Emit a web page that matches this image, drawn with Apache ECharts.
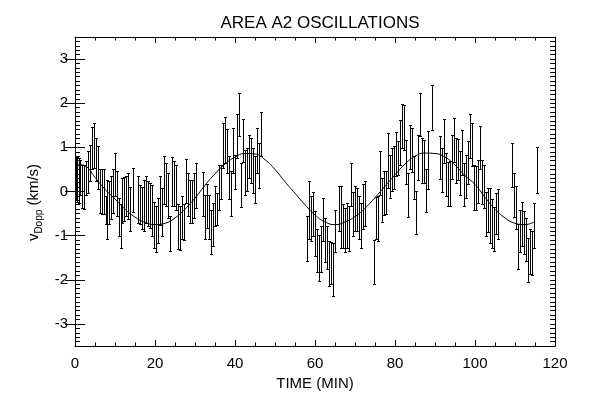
<!DOCTYPE html>
<html>
<head>
<meta charset="utf-8">
<script src="https://cdn.jsdelivr.net/npm/echarts@6/dist/echarts.min.js"></script>
<style>
  html, body { margin: 0; padding: 0; background: #fff; }
  #main { width: 597px; height: 396px; }
</style>
</head>
<body>
<div id="main"></div>
<script>
// measured points: time (min), top and bottom of error bar (km/s)
const times = [
  0.17, 0.5, 0.92, 1.33, 1.83, 2.33, 2.83, 3.33, 3.83, 4.33, 4.83, 5.33, 5.83, 6.33, 6.83, 7.33,
  7.67, 8.0, 8.5, 9.0, 9.5, 10.0, 10.5, 11.0, 11.5, 11.83, 12.33, 12.83, 13.33, 13.83, 14.5,
  15.83, 16.33, 16.83, 17.33, 17.83, 18.33, 18.83, 19.33, 19.83, 20.33, 20.83, 21.33, 21.83,
  22.33, 22.83, 23.33, 23.83, 24.33, 24.83, 25.33, 25.83, 26.33, 26.83, 27.33, 27.83, 28.33,
  28.83, 29.33, 29.75, 30.25, 31.92, 32.42, 32.92, 33.42, 33.92, 34.42, 34.92, 35.42, 35.92,
  36.42, 36.92, 37.42, 37.92, 38.42, 38.92, 39.42, 39.92, 40.42, 40.92, 41.42, 41.92, 42.42,
  42.92, 43.42, 43.92, 44.42, 44.92, 45.42, 45.92, 46.42,
  58.0, 58.5, 59.0, 59.5, 60.0, 60.5, 61.0, 61.5, 62.0, 62.5, 63.0, 63.5, 64.0, 64.5, 65.0,
  66.0, 66.5, 67.0, 67.5, 68.0, 68.5, 69.0, 69.5, 70.0, 70.5, 71.0, 71.5, 72.0, 72.5,
  74.67, 75.17, 75.67, 76.17, 76.67, 77.17, 77.67, 78.17, 78.67, 79.17, 79.67, 80.17, 80.67,
  81.17, 81.67, 82.17, 82.67, 83.17, 83.67, 84.17, 84.67, 85.17, 85.67, 86.17, 86.67, 87.17,
  87.75, 88.25, 89.25, 91.25, 91.75, 92.25, 92.75, 93.25, 93.75, 94.25, 94.75, 95.25, 95.75,
  96.25, 96.75, 97.25, 97.75, 98.25, 98.75, 99.25, 99.75, 100.25, 100.75, 101.25, 101.75,
  102.25, 102.75, 103.25, 103.75, 104.25, 104.75, 105.25, 105.75,
  109.25, 109.75, 110.25, 110.75, 111.25, 111.75, 112.25, 112.75, 113.25, 113.75, 114.25,
  114.75, 115.4
];
const highs = [
  0.81, 0.78, 0.76, 0.72, 0.61, 0.59, 0.70, 0.92, 1.05, 1.47, 1.55, 1.21, 1.02, 0.51, 0.51, 0.50,
  -0.11, 0.26, 0.23, 0.36, 0.51, 0.87, 0.46, -0.14, -0.29, 0.31, 0.33, 0.35, 0.42, 0.11, 0.53,
  0.35, 0.14, 0.11, 0.27, 0.35, 0.23, 0.20, 0.14, -0.24, -0.33, -0.14, 0.35, 0.08,
  0.80, 0.65, 0.42, -0.56, 0.78, 0.68, 0.59, -0.29, -0.32, -0.11, -0.29, 0.74, 0.42,
  0.27, 0.27, 0.41, 0.65, 0.44, -0.07, 0.18, -0.07, -0.41, -0.26, 0.12, -0.03, 0.61,
  0.61, 1.55, 1.68, 1.41, 0.80, 0.46, 1.44, 0.83, 1.76, 2.24, 0.65, 1.64, 0.95,
  0.98, 1.29, 1.21, 0.98, 0.80, 1.44, 1.10, 1.79,
  -0.56, 0.23, -0.11, -0.02, -0.44, -0.84, -0.99, -0.78, -0.14, -0.59, -0.78, -1.12, -1.14, -1.16, -0.42,
  0.12, 0.12, -0.29, -0.37, -0.27, -0.33, 0.65, -0.02, 0.12, 0.08, -0.11, -0.27, 0.16, 0.23,
  -1.10, -0.12, -0.11, 0.91, 0.31, 0.46, 0.46, 1.32, 0.83, 0.98, 1.04, 1.34, 1.14,
  1.61, 1.98, 1.95, 1.17, 0.42, 1.51, 1.44, 0.80, 0.01, 1.29, 2.23, 1.21, 1.17,
  0.51, 1.36, 2.41, 1.26, 0.98, 1.64, 0.87, 0.66, 0.68, 1.29, 1.66, 1.21, 1.19,
  0.91, 1.40, 0.65, 0.83, 1.14, 1.76, 1.56, 0.61, 0.57, 0.72, 1.49, 0.72,
  0.61, -0.02, 0.08, 0.08, -0.17, -0.35, -0.03, 0.05,
  1.10, 0.42, 0.12, -0.74, -0.41, -0.24, -0.44, -0.59, -1.05, -0.86, -0.89,
  -0.27, 1.00
];
const lows = [
  -0.18, -0.24, -0.26, -0.07, -0.37, -0.39, -0.07, -0.03, 0.23, 0.50, 0.53, 0.23, 0.05, -0.48, -0.50, -0.50,
  -0.74, -1.08, -0.74, -0.63, -0.48, -0.11, -0.56, -1.01, -1.29, -0.71, -0.67, -0.56, -0.63, -0.89, -0.47,
  -0.71, -0.74, -0.86, -0.89, -0.71, -0.78, -0.82, -1.01, -1.27, -1.38, -1.17, -0.77, -1.01,
  -0.29, -0.33, -0.59, -1.35, -0.33, -0.33, -0.41, -1.31, -1.32, -1.08, -1.10, -0.26, -0.56,
  -0.71, -0.72, -0.59, -0.37, -0.56, -1.07, -0.82, -1.08, -1.42, -1.23, -0.78, -0.77, -0.41,
  -0.17, 0.53, 0.65, 0.42, -0.17, -0.56, 0.42, 0.06, 0.76, 1.25, -0.35, 0.66, -0.07,
  0.01, 0.31, 0.20, -0.03, -0.26, 0.42, 0.08, 0.80,
  -1.57, -1.08, -1.12, -1.01, -1.46, -1.83, -2.02, -1.82, -1.12, -1.59, -1.76, -2.14, -2.10, -2.36, -1.37,
  -0.89, -1.27, -1.27, -1.37, -1.27, -1.35, -0.32, -1.01, -0.89, -0.89, -1.07, -1.27, -0.84, -0.78,
  -2.10, -1.08, -1.12, -0.07, -0.69, -0.54, -0.52, 0.08, -0.14, 0.01, 0.06, 0.35, 0.38,
  0.61, 0.98, 0.95, 0.18, -0.57, 0.51, 0.44, -0.18, -0.97, 0.27, 1.25, 0.20, 0.20,
  -0.47, 0.05, 1.40, 0.29, -0.02, 0.65, -0.11, -0.33, -0.33, 0.29, 0.66, 0.20, 0.27,
  -0.07, 0.38, -0.33, -0.14, 0.16, 0.76, 0.57, -0.41, -0.41, -0.27, 0.50, -0.29,
  -0.37, -1.01, -0.92, -1.16, -1.27, -1.35, -0.97, -1.08,
  0.11, -0.57, -0.86, -1.76, -1.38, -1.23, -1.42, -1.57, -2.05, -1.87, -1.89,
  -1.27, -0.03
];

// fitted oscillation
const fitTimes = [
  0, 2.5, 5, 7.5, 10, 12.5, 15, 17.5, 20, 22.5, 25, 27.5, 30, 32.5, 35, 37.5, 40, 42.5, 45,
  47.5, 50, 52.5, 55, 57.5, 60, 62.5, 65, 67.5, 70, 72.5, 75, 77.5, 80, 82.5, 85, 87.5, 90,
  92.5, 95, 97.5, 100, 102.5, 105, 107.5, 110, 112.5, 115
];
const fitValues = [
  0.63, 0.58, 0.32, 0.05, -0.17, -0.40, -0.58, -0.70, -0.75, -0.72, -0.60, -0.40, -0.15, 0.14,
  0.40, 0.62, 0.78, 0.86, 0.85, 0.72, 0.50, 0.22, -0.04, -0.30, -0.53, -0.69, -0.75, -0.69,
  -0.57, -0.38, -0.14, 0.12, 0.38, 0.62, 0.80, 0.87, 0.86, 0.78, 0.60, 0.36, 0.16, -0.13,
  -0.40, -0.60, -0.72, -0.75, -0.68
];

const yTicks = [-3, -2, -1, 0, 1, 2, 3];

const FONT = "'Liberation Sans', Arial, sans-serif";
const chart = echarts.init(document.getElementById('main'));

const barData = times.map((t, i) => [t, lows[i], highs[i]]);
const fitData = fitTimes.map((t, i) => [t, fitValues[i]]);

function renderBar(params, api) {
  const t = api.value(0);
  const lo = api.coord([t, api.value(1)]);
  const hi = api.coord([t, api.value(2)]);
  const x = Math.round(lo[0]) + 0.5;
  const y1 = Math.round(lo[1]) + 0.5;
  const y2 = Math.round(hi[1]) + 0.5;
  const style = { stroke: '#000', lineWidth: 1, fill: null };
  return {
    type: 'group',
    children: [
      { type: 'line', shape: { x1: x, y1: y1, x2: x, y2: y2 }, style: style },
      { type: 'line', shape: { x1: x - 1.5, y1: y1, x2: x + 1.5, y2: y1 }, style: style },
      { type: 'line', shape: { x1: x - 1.5, y1: y2, x2: x + 1.5, y2: y2 }, style: style }
    ]
  };
}

const lineStyle = { color: '#000', width: 1 };

function xAx(pos, labels) {
  return {
    type: 'value', position: pos, min: 0, max: 120, interval: 20,
    axisLine: { show: true, onZero: false, lineStyle: lineStyle },
    axisTick: { show: true, inside: true, length: 6, lineStyle: lineStyle },
    minorTick: { show: true, splitNumber: 4, length: 3.5, lineStyle: lineStyle },
    splitLine: { show: false },
    axisLabel: { show: labels, color: '#000', fontSize: 15, fontFamily: FONT, margin: 10 },
    name: labels ? 'TIME (MIN)' : '',
    nameLocation: 'middle', nameGap: 30,
    nameTextStyle: { color: '#000', fontSize: 15, fontFamily: FONT }
  };
}

function yMinor(pos) {
  return {
    type: 'value', position: pos, min: -3.5, max: 3.5, interval: 0.1,
    axisLine: { show: true, onZero: false, lineStyle: lineStyle },
    axisTick: { show: true, inside: true, length: 5, lineStyle: lineStyle },
    axisLabel: { show: false },
    splitLine: { show: false }
  };
}

function yMajor(pos, labels) {
  const ax = {
    type: 'value', position: pos, min: -3.5, max: 3.5,
    axisLine: { show: false },
    axisTick: { show: true, inside: true, length: 10, customValues: yTicks, lineStyle: lineStyle },
    axisLabel: { show: labels, customValues: yTicks, color: '#000', fontSize: 15, fontFamily: FONT, margin: 7 },
    splitLine: { show: false }
  };
  if (labels) {
    ax.name = '{v|v}{s|Dopp}{v| (km/s)}';
    ax.nameLocation = 'middle';
    ax.nameGap = 30;
    ax.nameRotate = 90;
    ax.nameTextStyle = {
      color: '#000', fontFamily: FONT, padding: [0, 22, 0, 0],
      rich: {
        v: { fontSize: 15, fontFamily: FONT, color: '#000', lineHeight: 20 },
        s: { fontSize: 10, fontFamily: FONT, color: '#000', lineHeight: 11, verticalAlign: 'bottom' }
      }
    };
  }
  return ax;
}

const option = {
  backgroundColor: '#fff',
  animation: false,
  title: {
    text: 'AREA A2 OSCILLATIONS',
    left: 315, top: 10, textAlign: 'center',
    textStyle: { color: '#000', fontSize: 17, fontWeight: 'normal', fontFamily: FONT }
  },
  grid: { left: 75, right: 42, top: 37, bottom: 49, containLabel: false },
  xAxis: [xAx('bottom', true), xAx('top', false)],
  yAxis: [yMinor('left'), yMajor('left', true), yMinor('right'), yMajor('right', false)],
  series: [
    {
      type: 'custom', name: 'vDopp', xAxisIndex: 0, yAxisIndex: 0,
      renderItem: renderBar, data: barData, clip: true
    },
    {
      type: 'line', name: 'fit', xAxisIndex: 0, yAxisIndex: 0,
      data: fitData, smooth: true, symbol: 'none',
      lineStyle: { color: '#000', width: 1 }
    }
  ]
};

chart.setOption(option);
</script>
</body>
</html>
